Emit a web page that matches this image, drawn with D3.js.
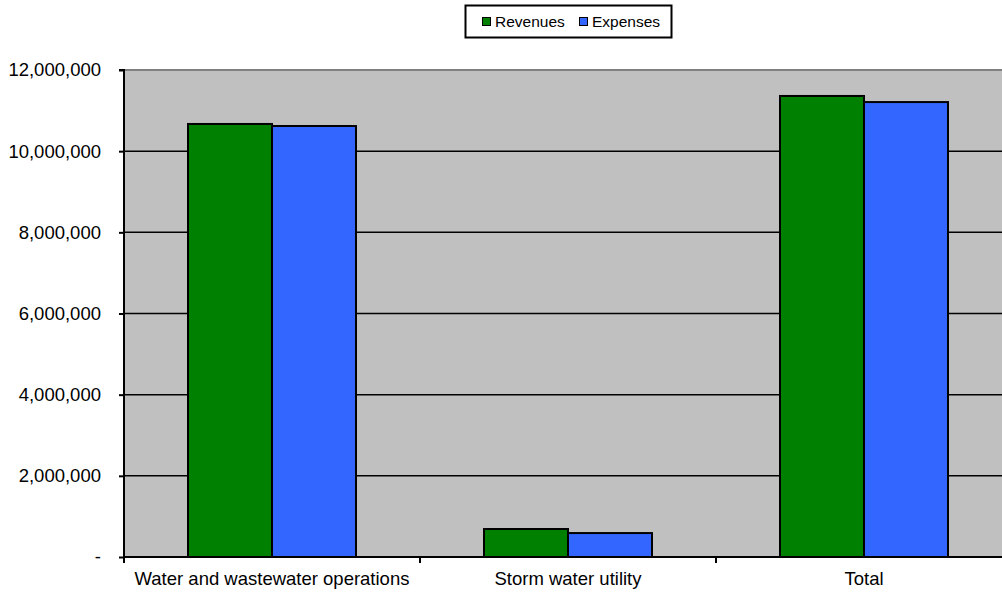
<!DOCTYPE html>
<html><head><meta charset="utf-8">
<script src="https://cdn.jsdelivr.net/npm/d3@7"></script>
<style>body{margin:0;background:#fff;overflow:hidden}svg{display:block;font-family:"Liberation Sans",Arial,sans-serif}</style>
</head><body><svg id="c" width="1002" height="593"></svg>
<script>
const categories = ["Water and wastewater operations","Storm water utility","Total"];
const seriesNames = ["Revenues","Expenses"];
const revenues = [10670000, 690000, 11360000];
const expenses = [10620000, 590000, 11210000];
const yTicks = [0,2000000,4000000,6000000,8000000,10000000,12000000];
const colors = ["#008000","#3366FF"];

(function(){
const svg = d3.select("#c");
const pLeft = 124, pTop = 70, pBottom = 557, catW = 296;
const pRight = pLeft + catW*categories.length;
const x = d3.scaleBand().domain(categories).range([pLeft,pRight]).padding(0);
const xs = d3.scaleBand().domain(seriesNames).range([0,x.bandwidth()]).paddingInner(0).paddingOuter(64/84);
const y = d3.scaleLinear().domain([0,12000000]).range([pBottom,pTop]);

svg.append("rect").attr("x",pLeft).attr("y",pTop).attr("width",pRight-pLeft).attr("height",pBottom-pTop).attr("fill","#C0C0C0");
svg.append("line").attr("x1",pLeft).attr("x2",pRight).attr("y1",pTop).attr("y2",pTop).attr("stroke","#808080").attr("stroke-width",2);
svg.append("g").selectAll("line").data(yTicks.filter(d=>d>0&&d<12000000)).join("line")
  .attr("x1",pLeft).attr("x2",pRight).attr("y1",d=>y(d)).attr("y2",d=>y(d)).attr("stroke","#000").attr("stroke-width",1.5);

const data = [revenues, expenses];
const g = svg.append("g");
seriesNames.forEach((s,si)=>{
  g.selectAll(null).data(categories).join("rect")
    .attr("x",c=>x(c)+xs(s)).attr("width",xs.bandwidth())
    .attr("y",(c,i)=>y(data[si][i])).attr("height",(c,i)=>pBottom-y(data[si][i]))
    .attr("fill",colors[si]).attr("stroke","#000").attr("stroke-width",2);
});

const fmt = d=> d===0 ? "-" : d3.format(",")(d);
const ya = d3.axisLeft(y).tickValues(yTicks).tickSize(5).tickPadding(18).tickFormat(fmt);
const yg = svg.append("g").attr("transform",`translate(${pLeft},0)`).call(ya);
yg.select(".domain").attr("stroke","#000").attr("stroke-width",2).attr("d",`M-5,${pTop}H0V${pBottom}`);
yg.selectAll(".tick line").attr("stroke","#000").attr("stroke-width",2);
yg.selectAll("text").attr("font-size",18.5).attr("fill","#000").attr("font-family","Liberation Sans, Arial, sans-serif");

const xg = svg.append("g").attr("transform",`translate(0,${pBottom})`);
xg.append("line").attr("x1",pLeft).attr("x2",pRight).attr("stroke","#000").attr("stroke-width",2);
xg.selectAll("line.t").data(d3.range(categories.length+1)).join("line").attr("class","t")
  .attr("x1",i=>pLeft+i*x.step()).attr("x2",i=>pLeft+i*x.step()).attr("y1",0).attr("y2",6).attr("stroke","#000").attr("stroke-width",2);
xg.selectAll("text").data(categories).join("text")
  .attr("x",c=>x(c)+x.bandwidth()/2).attr("y",28).attr("text-anchor","middle")
  .attr("font-size",18.5).attr("fill","#000").text(c=>c);

const lg = svg.append("g");
lg.append("rect").attr("x",465.5).attr("y",5.5).attr("width",206).attr("height",32).attr("fill","#fff").attr("stroke","#000").attr("stroke-width",2);
const lx = [482, 579];
seriesNames.forEach((s,i)=>{
  lg.append("rect").attr("x",lx[i]+0.5).attr("y",17.5).attr("width",8).attr("height",8).attr("fill",colors[i]).attr("stroke","#000").attr("stroke-width",1);
  lg.append("text").attr("x",lx[i]+13).attr("y",27).attr("font-size",15.5).attr("fill","#000").text(s);
});
})();
</script></body></html>
